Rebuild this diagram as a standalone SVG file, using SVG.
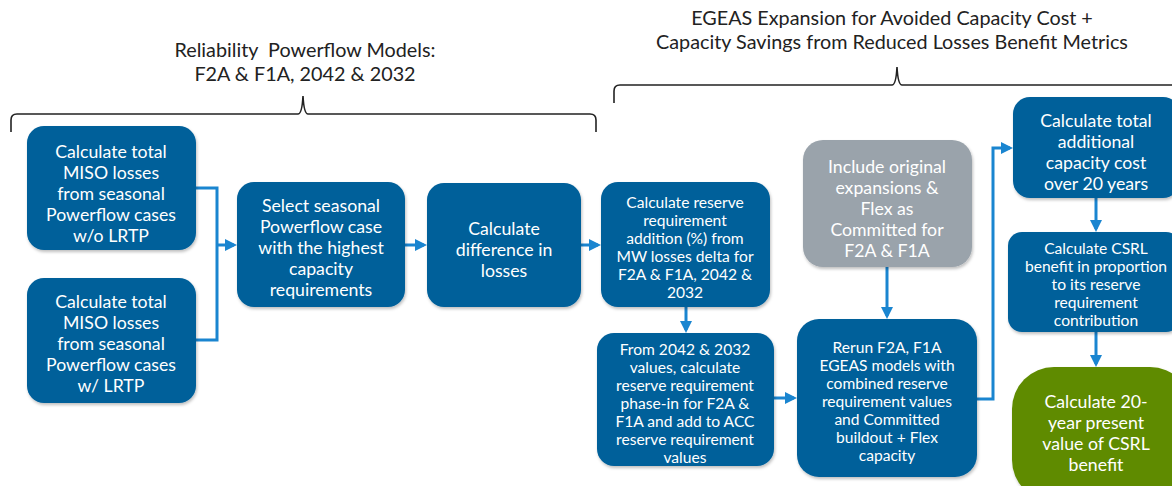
<svg xmlns="http://www.w3.org/2000/svg" width="1172" height="486" viewBox="0 0 1172 486">
<style>
.box{fill:#05609a;filter:url(#sh)}
.gray{fill:#9aa3ab;filter:url(#sh)}
.green{fill:#5f8b00;filter:url(#sh)}
.t{font-family:Lato,"Liberation Sans",sans-serif;fill:#fff;text-anchor:middle}
.t17{font-size:17.7px}
.t15{font-size:15.6px}
.h{font-family:Lato,"Liberation Sans",sans-serif;font-size:19.8px;fill:#222;text-anchor:middle;white-space:pre}
.brace{fill:none;stroke:#222;stroke-width:1.6}
.conn{fill:none;stroke:#1a85d0;stroke-width:3}
.arr{fill:none;stroke:#1a85d0;stroke-width:3;marker-end:url(#ah)}
</style>
<defs>
<marker id="ah" markerWidth="4" markerHeight="4" refX="3" refY="2" orient="auto" markerUnits="strokeWidth">
<path d="M0,0 L4,2 L0,4 Z" fill="#1a85d0"/>
</marker>
<filter id="sh" x="-10%" y="-10%" width="125%" height="125%">
<feDropShadow dx="1" dy="2" stdDeviation="1.5" flood-color="#000" flood-opacity="0.25"/>
</filter>
</defs>
<rect width="1172" height="486" fill="#fff"/>

<g id="headers">
<text class="h" x="305" y="57">Reliability  Powerflow Models:</text>
<text class="h" x="305" y="81">F2A &amp; F1A, 2042 &amp; 2032</text>
<text class="h" x="892" y="25">EGEAS Expansion for Avoided Capacity Cost +</text>
<text class="h" x="892" y="49">Capacity Savings from Reduced Losses Benefit Metrics</text>
<path class="brace" d="M11,132 V120 Q11,114 17,114 H298 Q302,114 303,96 Q304,114 308,114 H590 Q596,114 596,120 V132"/>
<path class="brace" d="M614,103 V91 Q614,85 620,85 H892 Q896,85 897,67 Q898,85 902,85 H1180"/>
</g>

<g id="connectors">
<path class="conn" d="M196,188 H217 V340 H196"/>
<path class="arr" d="M217,245 H234"/>
<path class="arr" d="M405,245 H424"/>
<path class="arr" d="M581,245 H598"/>
<path class="arr" d="M686,307 V330"/>
<path class="arr" d="M774,398 H794"/>
<path class="arr" d="M887,267 V316"/>
<path class="arr" d="M977,399 H993 V148 H1010"/>
<path class="arr" d="M1096,198 V229"/>
<path class="arr" d="M1096,332 V364"/>
</g>

<g id="n1">
<rect class="box" x="27" y="126" width="169" height="124" rx="17"/>
<text class="t t17"><tspan x="111" y="158">Calculate total</tspan><tspan x="111" y="179">MISO losses</tspan><tspan x="111" y="200">from seasonal</tspan><tspan x="111" y="221">Powerflow cases</tspan><tspan x="111" y="242">w/o LRTP</tspan></text>
</g>
<g id="n2">
<rect class="box" x="27" y="278" width="169" height="125" rx="17"/>
<text class="t t17"><tspan x="111" y="308">Calculate total</tspan><tspan x="111" y="329">MISO losses</tspan><tspan x="111" y="350">from seasonal</tspan><tspan x="111" y="371">Powerflow cases</tspan><tspan x="111" y="392">w/ LRTP</tspan></text>
</g>
<g id="n3">
<rect class="box" x="237" y="182" width="168" height="125" rx="17"/>
<text class="t t17"><tspan x="321" y="212">Select seasonal</tspan><tspan x="321" y="233">Powerflow case</tspan><tspan x="321" y="254">with the highest</tspan><tspan x="321" y="275">capacity</tspan><tspan x="321" y="296">requirements</tspan></text>
</g>
<g id="n4">
<rect class="box" x="427" y="183" width="154" height="124" rx="17"/>
<text class="t t17"><tspan x="504" y="235">Calculate</tspan><tspan x="504" y="256">difference in</tspan><tspan x="504" y="277">losses</tspan></text>
</g>
<g id="n5">
<rect class="box" x="601" y="182" width="169" height="125" rx="17"/>
<text class="t t15"><tspan x="685" y="208">Calculate reserve</tspan><tspan x="685" y="226">requirement</tspan><tspan x="685" y="244">addition (%) from</tspan><tspan x="685" y="262">MW losses delta for</tspan><tspan x="685" y="280">F2A &amp; F1A, 2042 &amp;</tspan><tspan x="685" y="298">2032</tspan></text>
</g>
<g id="n6">
<rect class="box" x="597" y="333" width="177" height="133" rx="17"/>
<text class="t t15"><tspan x="685" y="355">From 2042 &amp; 2032</tspan><tspan x="685" y="373">values, calculate</tspan><tspan x="685" y="391">reserve requirement</tspan><tspan x="685" y="409">phase-in for F2A &amp;</tspan><tspan x="685" y="427">F1A and add to ACC</tspan><tspan x="685" y="445">reserve requirement</tspan><tspan x="685" y="463">values</tspan></text>
</g>
<g id="n7">
<rect class="gray" x="803" y="140" width="169" height="127" rx="20"/>
<text class="t t17"><tspan x="887" y="173">Include original</tspan><tspan x="887" y="194">expansions &amp;</tspan><tspan x="887" y="215">Flex as</tspan><tspan x="887" y="236">Committed for</tspan><tspan x="887" y="257">F2A &amp; F1A</tspan></text>
</g>
<g id="n8">
<rect class="box" x="797" y="319" width="180" height="158" rx="22"/>
<text class="t t15"><tspan x="887" y="353">Rerun F2A, F1A</tspan><tspan x="887" y="371">EGEAS models with</tspan><tspan x="887" y="389">combined reserve</tspan><tspan x="887" y="407">requirement values</tspan><tspan x="887" y="425">and Committed</tspan><tspan x="887" y="443">buildout + Flex</tspan><tspan x="887" y="461">capacity</tspan></text>
</g>
<g id="n9">
<rect class="box" x="1013" y="97" width="167" height="101" rx="17"/>
<text class="t t17"><tspan x="1096" y="127">Calculate total</tspan><tspan x="1096" y="148">additional</tspan><tspan x="1096" y="169">capacity cost</tspan><tspan x="1096" y="190">over 20 years</tspan></text>
</g>
<g id="n10">
<rect class="box" x="1008" y="232" width="172" height="100" rx="14"/>
<text class="t t15"><tspan x="1096" y="254">Calculate CSRL</tspan><tspan x="1096" y="272">benefit in proportion</tspan><tspan x="1096" y="290">to its reserve</tspan><tspan x="1096" y="308">requirement</tspan><tspan x="1096" y="326">contribution</tspan></text>
</g>
<g id="n11">
<rect class="green" x="1012" y="367" width="180" height="135" rx="42"/>
<text class="t t17"><tspan x="1096" y="408">Calculate 20-</tspan><tspan x="1096" y="429">year present</tspan><tspan x="1096" y="450">value of CSRL</tspan><tspan x="1096" y="471">benefit</tspan></text>
</g>
</svg>
